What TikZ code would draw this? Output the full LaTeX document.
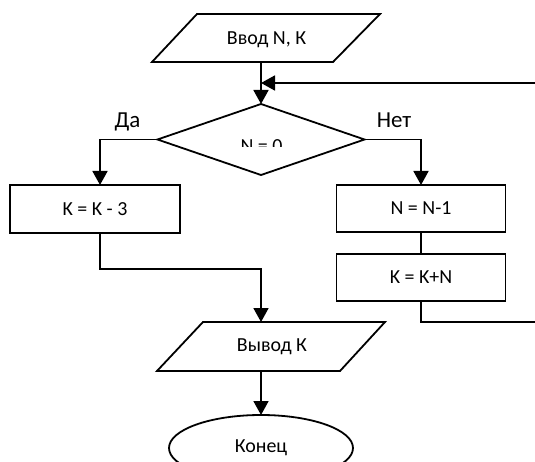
\documentclass[tikz,border=0pt]{standalone}
\usepackage{fontspec}
\setmainfont{Carlito}
\usetikzlibrary{arrows.meta,shapes.geometric}
\begin{document}
\begin{tikzpicture}[x=1bp,y=-1bp,
  ln/.style={line width=1.8bp},
  arr/.style={ln,-{Triangle[length=14bp,width=15bp]}},
  procbox/.style={draw,ln,rectangle,inner sep=0pt,outer sep=0pt,minimum width=169bp,minimum height=47bp,font=\fontsize{20}{24}\selectfont},
  iotext/.style={inner sep=0pt,font=\fontsize{20}{24}\selectfont},
  lbl/.style={inner sep=0pt,font=\fontsize{23}{27}\selectfont},
  shapeline/.style={draw,ln,line join=miter}
]
\useasboundingbox (0,0) rectangle (535,462);
\clip (0,0) rectangle (535,462);
% input
\draw[shapeline] (197,14) -- (380,14) -- (333,62) -- (152,62) -- cycle;
\node[iotext] (in) at (266.5,40) {Ввод N, К};
\coordinate (ins) at (261,62);
\coordinate (join) at (261,83);
\coordinate (loopin) at (535,83);
% decision
\node[diamond,draw,ln,minimum width=207bp,minimum height=71bp,inner sep=0pt,outer sep=0pt] (dec) at (261,139.5) {};
\begin{scope}
\clip (150,100) rectangle (372,147);
\node[iotext,anchor=base] (dect) at (261.5,153) {N = 0};
\end{scope}
\node[lbl,anchor=base] (yes) at (127.5,128) {Да};
\node[lbl,anchor=base] (no) at (394,128) {Нет};
% process boxes
\node[procbox,minimum width=170bp,minimum height=48bp] (k3) at (95,209) {K = K - 3};
\node[procbox] (n1) at (421,208.5) {N = N-1};
\node[procbox] (kn) at (421,277.5) {K = K+N};
% output
\draw[shapeline] (203,322) -- (385,322) -- (340,371) -- (157,371) -- cycle;
\node[iotext] (out) at (272,347) {Вывод К};
\coordinate (outn) at (261,322);
\coordinate (outs) at (261,371);
% terminator
\node[ellipse,draw,ln,minimum width=184bp,minimum height=66bp,inner sep=0pt,outer sep=0pt,font=\fontsize{20}{24}\selectfont] (end) at (261,448) {Конец};
% connectors
\coordinate (lx) at (100,0);
\coordinate (lmid) at (261,269);
\coordinate (rexit) at (535,322);
\draw[ln] (ins) -- (join);
\draw[arr] (join) -- (dec.north);
\draw[arr] (loopin) -- (join);
\draw[arr] (dec.west) -| (k3.north -| lx);
\draw[arr] (dec.east) -| (n1.north);
\draw[ln] (n1.south) -- (kn.north);
\draw[ln] (kn.south) |- (rexit);
\draw[arr] (k3.south -| lx) |- (lmid) -- (outn);
\draw[arr] (outs) -- (end.north);
\end{tikzpicture}
\end{document}
